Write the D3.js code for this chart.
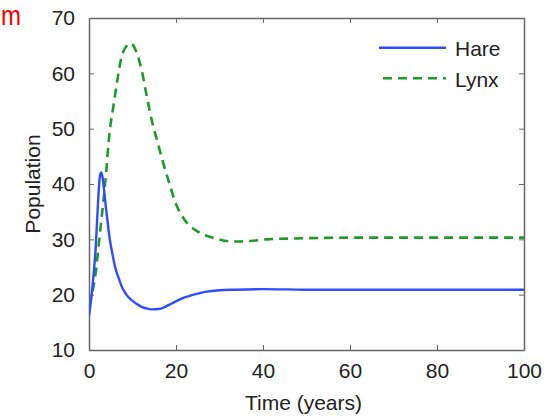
<!DOCTYPE html>
<html>
<head>
<meta charset="utf-8">
<script src="https://cdn.jsdelivr.net/npm/d3@7"></script>
<style>
  body { margin: 0; background: #fff; }
  svg { display: block; }
  text { font-family: "Liberation Sans", Arial, Helvetica, sans-serif; fill: #222; }
</style>
</head>
<body>
<div id="viz"></div>
<script>
// values
const hareT = [0, 0.5, 1, 1.5, 2, 2.5, 2.8, 3.1, 3.7, 4.3, 4.8, 5.4, 6, 7, 7.5, 8.5, 9.8, 11, 12.1, 13.3, 14.4, 16, 17.5, 19, 20.5, 22, 23.6, 25, 26.7, 30, 33.6, 40, 50, 60, 70, 80, 90, 100];
const hareV = [16.2, 19.2, 23.2, 28, 35.5, 41.4, 42.1, 41.3, 37.1, 33, 29.9, 27.3, 25, 22.6, 21.5, 20.1, 19, 18.3, 17.8, 17.5, 17.35, 17.4, 17.8, 18.4, 19, 19.5, 19.9, 20.2, 20.5, 20.8, 20.9, 21, 20.9, 20.9, 20.9, 20.9, 20.9, 20.9];

const lynxT = [0, 0.6, 1.4, 2.5, 3.7, 4.8, 5.6, 6.4, 7.5, 8.5, 9.4, 10.2, 11, 12.1, 13.3, 14.4, 15.6, 17.1, 18.6, 19.8, 22, 25, 29, 33, 37, 41, 50, 60, 80, 100];
const lynxV = [18, 19.8, 23.2, 31, 40, 49.8, 54, 58.2, 63, 64.8, 65.4, 65, 63.6, 60.6, 55.8, 51.6, 48, 43.7, 39.8, 36.8, 33.5, 31.4, 30.2, 29.6, 29.7, 30, 30.2, 30.3, 30.3, 30.3];

const xTicks = [0, 20, 40, 60, 80, 100];
const yTicks = [10, 20, 30, 40, 50, 60, 70];
const seriesNames = ["Hare", "Lynx"];

const W = 550, H = 416;
const plot = { left: 89, right: 524, top: 18, bottom: 350 };

const svg = d3.select("#viz")
  .append("svg")
  .attr("width", W)
  .attr("height", H);

const x = d3.scaleLinear().domain([0, 100]).range([plot.left, plot.right]);
const y = d3.scaleLinear().domain([10, 70]).range([plot.bottom, plot.top]);

// red text in the corner (kept inside the page)
svg.append("text")
  .attr("x", 1)
  .attr("y", 25)
  .attr("textLength", 20)
  .attr("lengthAdjust", "spacingAndGlyphs")
  .style("font-size", "27px")
  .style("fill", "#ff0000")
  .text("m");

svg.append("defs").append("clipPath")
  .attr("id", "clip")
  .append("rect")
  .attr("x", plot.left)
  .attr("y", plot.top)
  .attr("width", plot.right - plot.left)
  .attr("height", plot.bottom - plot.top);

const axisColor = "#666";
const tickLen = 5;

// axes, ticks pointing inward like matlab
const xAxis = svg.append("g")
  .attr("transform", `translate(0,${plot.bottom})`)
  .call(d3.axisBottom(x).tickValues(xTicks).tickSizeInner(-tickLen).tickSizeOuter(0).tickPadding(13));
const yAxis = svg.append("g")
  .attr("transform", `translate(${plot.left},0)`)
  .call(d3.axisLeft(y).tickValues(yTicks).tickSizeInner(-tickLen).tickSizeOuter(0).tickPadding(14));
const xTop = svg.append("g")
  .attr("transform", `translate(0,${plot.top})`)
  .call(d3.axisTop(x).tickValues(xTicks).tickSizeInner(-tickLen).tickSizeOuter(0).tickFormat(""));
const yRight = svg.append("g")
  .attr("transform", `translate(${plot.right},0)`)
  .call(d3.axisRight(y).tickValues(yTicks).tickSizeInner(-tickLen).tickSizeOuter(0).tickFormat(""));

[xAxis, yAxis, xTop, yRight].forEach(g => {
  g.select(".domain").attr("stroke", axisColor).attr("stroke-width", 1.5);
  g.selectAll(".tick line").attr("stroke", axisColor).attr("stroke-width", 1);
  g.selectAll(".tick text")
    .style("font-size", "21px")
    .style("font-family", "'Liberation Sans', Arial, sans-serif")
    .attr("fill", "#222");
});
xAxis.selectAll(".tick text").attr("dy", "0.71em");

// axis labels
svg.append("text")
  .attr("x", (plot.left + plot.right) / 2 - 3)
  .attr("y", 410)
  .attr("text-anchor", "middle")
  .style("font-size", "21px")
  .text("Time (years)");

svg.append("text")
  .attr("transform", `translate(40,${(plot.top + plot.bottom) / 2}) rotate(-90)`)
  .attr("text-anchor", "middle")
  .style("font-size", "21px")
  .text("Population");

const line = d3.line()
  .x(d => x(d[0]))
  .y(d => y(d[1]))
  .curve(d3.curveMonotoneX);

const hareData = hareT.map((t, i) => [t, hareV[i]]);
const lynxData = lynxT.map((t, i) => [t, lynxV[i]]);

const curves = svg.append("g").attr("clip-path", "url(#clip)");

curves.append("path")
  .datum(lynxData)
  .attr("d", line)
  .attr("fill", "none")
  .attr("stroke", "#1f9a2a")
  .attr("stroke-width", 2.6)
  .attr("stroke-dasharray", "9,6");

curves.append("path")
  .datum(hareData)
  .attr("d", line)
  .attr("fill", "none")
  .attr("stroke", "#2f4dff")
  .attr("stroke-width", 2.4);

// legend
const legend = svg.append("g");
const legendRows = [
  { name: seriesNames[0], y: 47.7, color: "#2f4dff", dash: null, x1: 379, x2: 446 },
  { name: seriesNames[1], y: 78.3, color: "#1f9a2a", dash: "9,6", x1: 383, x2: 446 }
];
legendRows.forEach(r => {
  legend.append("line")
    .attr("x1", r.x1).attr("x2", r.x2)
    .attr("y1", r.y).attr("y2", r.y)
    .attr("stroke", r.color)
    .attr("stroke-width", 2.4)
    .attr("stroke-dasharray", r.dash);
  legend.append("text")
    .attr("x", 455)
    .attr("y", r.y + 8.5)
    .style("font-size", "21px")
    .text(r.name);
});
</script>
</body>
</html>
